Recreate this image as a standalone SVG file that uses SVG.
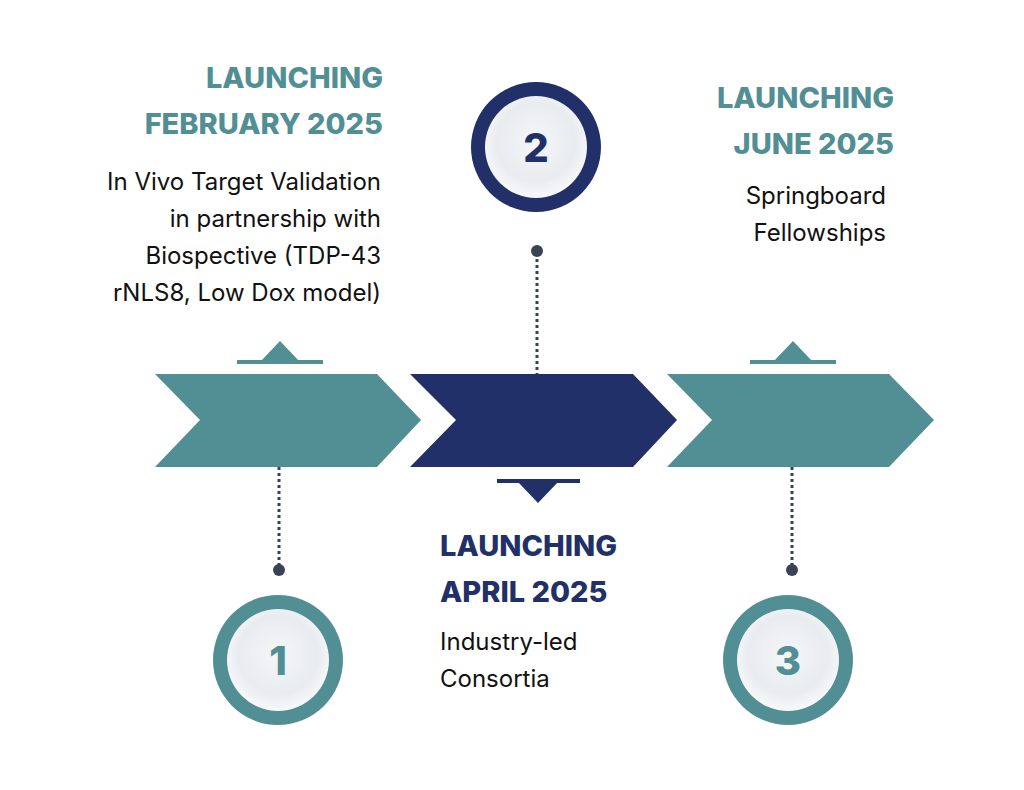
<svg xmlns="http://www.w3.org/2000/svg" width="1024" height="790" viewBox="0 0 1024 790">
<defs>
<radialGradient id="face" cx="50%" cy="45%" r="55%">
<stop offset="0" stop-color="#f4f6f8"/><stop offset="0.7" stop-color="#e9ecef"/><stop offset="1" stop-color="#f7f8fa"/>
</radialGradient>
<style>
.teal{fill:#528F95}.navy{fill:#213069}
.h{font-family:Inter,"Liberation Sans",sans-serif;font-weight:800;font-size:29px}
.b{font-family:Inter,"Liberation Sans",sans-serif;font-size:24px;fill:#111}
.num{font-family:Inter,"Liberation Sans",sans-serif;font-weight:800;font-size:40px;text-anchor:middle}
.dot{stroke:#3a4255;stroke-width:3;stroke-dasharray:3,3}
</style>
</defs>
<rect width="1024" height="790" fill="#fff"/>
<g id="connectors">
<line class="dot" x1="279" y1="467" x2="279" y2="568"/>
<circle cx="279" cy="570" r="6" fill="#3a4255"/>
<line class="dot" x1="537" y1="253" x2="537" y2="374"/>
<circle cx="537" cy="251" r="6" fill="#3a4255"/>
<line class="dot" x1="792" y1="467" x2="792" y2="568"/>
<circle cx="792" cy="570" r="6" fill="#3a4255"/>
</g>
<g id="chevron1"><polygon class="teal" points="155,374 377,374 421,420 377,467 155,467 200,420"/>
<polygon class="teal" points="260,362 280,341 300,362"/><rect class="teal" x="237" y="360" width="86" height="4"/></g>
<g id="chevron2"><polygon class="navy" points="410,374 633,374 677,420 633,467 410,467 456,420"/>
<polygon class="navy" points="518,482 538,503 558,482"/><rect class="navy" x="497" y="479" width="83" height="4"/></g>
<g id="chevron3"><polygon class="teal" points="667,374 889,374 934,420 889,467 667,467 712,420"/>
<polygon class="teal" points="773,362 793,341 813,362"/><rect class="teal" x="750" y="360" width="86" height="4"/></g>
<g id="circle1"><circle cx="278" cy="660" r="65" class="teal"/><circle cx="278" cy="660" r="51" fill="url(#face)"/><text class="num teal" x="278" y="675">1</text></g>
<g id="circle2"><circle cx="536" cy="147" r="65" class="navy"/><circle cx="536" cy="147" r="51" fill="url(#face)"/><text class="num navy" x="536" y="162">2</text></g>
<g id="circle3"><circle cx="788" cy="660" r="65" class="teal"/><circle cx="788" cy="660" r="51" fill="url(#face)"/><text class="num teal" x="788" y="675">3</text></g>
<g id="text1" text-anchor="end">
<text class="h teal" x="383" y="88">LAUNCHING</text>
<text class="h teal" x="383" y="134">FEBRUARY 2025</text>
<text class="b" x="381" y="190">In Vivo Target Validation</text>
<text class="b" x="381" y="227">in partnership with</text>
<text class="b" x="381" y="264">Biospective (TDP-43</text>
<text class="b" x="381" y="301">rNLS8, Low Dox model)</text>
</g>
<g id="text2">
<text class="h navy" x="440" y="556">LAUNCHING</text>
<text class="h navy" x="440" y="602">APRIL 2025</text>
<text class="b" x="440" y="650">Industry-led</text>
<text class="b" x="440" y="687">Consortia</text>
</g>
<g id="text3" text-anchor="end">
<text class="h teal" x="894" y="108">LAUNCHING</text>
<text class="h teal" x="894" y="154">JUNE 2025</text>
<text class="b" x="886" y="204">Springboard</text>
<text class="b" x="886" y="241">Fellowships</text>
</g>
</svg>
